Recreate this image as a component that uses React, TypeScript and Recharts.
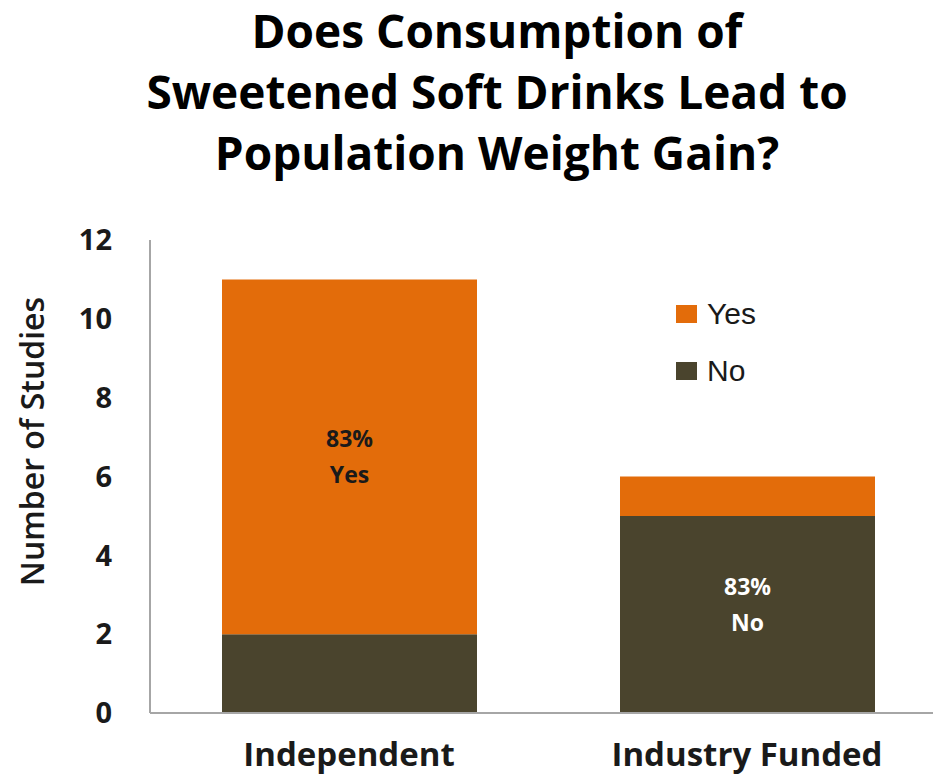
import { BarChart, Bar, XAxis, YAxis, Legend, LabelList, Label } from "recharts";

// chart values
const categories = ["Independent", "Industry Funded"];
const noStudies = [2, 5];
const yesStudies = [9, 1];
const yTicks = [0, 2, 4, 6, 8, 10, 12];
// which segment carries the in-bar annotation, and its text
const noteSegment = ["yes", "no"];
const notePercent = ["83%", "83%"];
const noteAnswer = ["Yes", "No"];

const ORANGE = "#E36C0A";
const OLIVE = "#4A442D";
const AXIS = "#A6A6A6";
const TEXT = "#1A1A1A";
const FONT = "'Open Sans', sans-serif";

const data = categories.map((name, i) => ({
  name,
  no: noStudies[i],
  yes: yesStudies[i],
}));

const noteRenderer = (segment: string) => (props: any) => {
  const { x, y, width, height, index } = props;
  if (noteSegment[index] !== segment) return null;
  const cx = Number(x) + Number(width) / 2;
  const cy = Number(y) + Number(height) / 2;
  const shift = segment === "no" ? -9 : 0;
  return (
    <text
      textAnchor="middle"
      fontFamily={FONT}
      fontWeight={700}
      fontSize={23}
      fill={segment === "no" ? "#FFFFFF" : TEXT}
      dominantBaseline="central"
    >
      <tspan x={cx} y={cy - 19 + shift}>
        {notePercent[index]}
      </tspan>
      <tspan x={cx} y={cy + 17 + shift}>
        {noteAnswer[index]}
      </tspan>
    </text>
  );
};

const LegendBox = () => (
  <div style={{ fontFamily: "'Liberation Sans', Arial, sans-serif", fontSize: 30, color: TEXT }}>
    {[
      { label: "Yes", color: ORANGE },
      { label: "No", color: OLIVE },
    ].map((item) => (
      <div key={item.label} style={{ display: "flex", alignItems: "center", height: 57 }}>
        <span style={{ width: 21, height: 18, background: item.color, marginRight: 10 }} />
        <span>{item.label}</span>
      </div>
    ))}
  </div>
);

export default function App() {
  return (
    <div
      style={{
        position: "absolute",
        left: 0,
        top: 0,
        width: 933,
        height: 776,
        overflow: "hidden",
        background: "#fff",
      }}
    >
      <div
        style={{
          position: "absolute",
          left: 0,
          top: 0,
          width: 994,
          textAlign: "center",
          fontFamily: FONT,
          fontWeight: 700,
          fontSize: 46,
          lineHeight: "61px",
          color: "#000",
        }}
      >
        Does Consumption of
        <br />
        Sweetened Soft Drinks Lead to
        <br />
        Population Weight Gain?
      </div>
      <BarChart
        width={950}
        height={776}
        data={data}
        margin={{ top: 240, right: 4, left: 0, bottom: 0 }}
        barSize={255}
      >
        <XAxis
          dataKey="name"
          height={63}
          axisLine={{ stroke: AXIS, strokeWidth: 2 }}
          tickLine={false}
          tickSize={0}
          tickMargin={30}
          tick={{ fill: TEXT, fontSize: 33, fontWeight: 700, fontFamily: FONT }}
        />
        <YAxis
          width={150}
          domain={[0, 12]}
          ticks={yTicks}
          interval={0}
          axisLine={{ stroke: AXIS, strokeWidth: 2 }}
          tickLine={false}
          tickSize={0}
          tickMargin={38}
          tick={{ fill: TEXT, fontSize: 29, fontWeight: 700, fontFamily: FONT }}
        >
          <Label
            content={(props: any) => {
              const vb = props.viewBox || { x: 0, y: 240, width: 150, height: 473 };
              const cx = vb.x + 31;
              const cy = vb.y + vb.height / 2 - 35;
              return (
                <text
                  x={cx}
                  y={cy}
                  transform={`rotate(-90, ${cx}, ${cy})`}
                  textAnchor="middle"
                  dominantBaseline="central"
                  fontFamily={FONT}
                  fontWeight={600}
                  fontSize={32}
                  fill={TEXT}
                >
                  Number of Studies
                </text>
              );
            }}
          />
        </YAxis>
        <Legend
          layout="horizontal"
          verticalAlign="middle"
          align="center"
          content={<LegendBox />}
          wrapperStyle={{ position: "absolute", left: 676, top: 285, width: 150 }}
        />
        <Bar dataKey="no" name="No" stackId="s" fill={OLIVE} isAnimationActive={false}>
          <LabelList dataKey="no" content={noteRenderer("no")} />
        </Bar>
        <Bar dataKey="yes" name="Yes" stackId="s" fill={ORANGE} isAnimationActive={false}>
          <LabelList dataKey="yes" content={noteRenderer("yes")} />
        </Bar>
      </BarChart>
    </div>
  );
}
